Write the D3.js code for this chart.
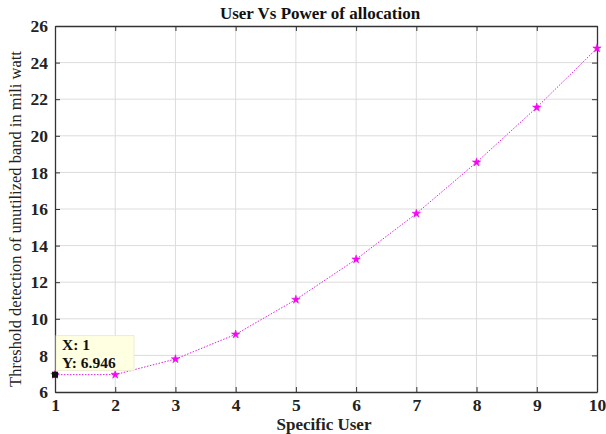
<!DOCTYPE html>
<html>
<head>
<meta charset="utf-8">
<script src="https://cdn.jsdelivr.net/npm/d3@7"></script>
<style>
  body { margin: 0; background: #fff; }
  text { font-family: "Liberation Serif", "Times New Roman", serif; }
</style>
</head>
<body>
<div id="chart"></div>
<script>
// data
const users = [1, 2, 3, 4, 5, 6, 7, 8, 9, 10];
const power = [6.946, 6.95, 7.8, 9.15, 11.05, 13.25, 15.75, 18.55, 21.55, 24.78];
const yTicks = [6, 8, 10, 12, 14, 16, 18, 20, 22, 24, 26];
const tipIndex = 0;

const W = 606, H = 434;
const margin = { top: 26, right: 9, bottom: 42, left: 55 };
const width = W - margin.left - margin.right;
const height = H - margin.top - margin.bottom;

const svg = d3.select("#chart").append("svg")
  .attr("width", W)
  .attr("height", H);

const g = svg.append("g")
  .attr("transform", "translate(" + margin.left + "," + margin.top + ")");

const x = d3.scaleLinear().domain([1, 10]).range([0, width]);
const y = d3.scaleLinear().domain([6, 26]).range([height, 0]);

// grid
g.append("g").selectAll("line")
  .data(users.slice(1, -1))
  .enter().append("line")
  .attr("x1", d => x(d)).attr("x2", d => x(d))
  .attr("y1", 0).attr("y2", height)
  .attr("stroke", "#dcdcdc").attr("stroke-width", 1);
g.append("g").selectAll("line")
  .data(yTicks.slice(1, -1))
  .enter().append("line")
  .attr("x1", 0).attr("x2", width)
  .attr("y1", d => y(d)).attr("y2", d => y(d))
  .attr("stroke", "#dcdcdc").attr("stroke-width", 1);

// axes (box style, ticks inward)
const axisStyle = sel => {
  sel.select(".domain").attr("stroke", "#333").attr("stroke-width", 1.3);
  sel.selectAll(".tick line").attr("stroke", "#333");
  sel.selectAll("text")
    .style("font-family", "'Liberation Serif', serif")
    .style("font-weight", "bold")
    .style("font-size", "17.5px")
    .attr("fill", "#222");
};

g.append("g")
  .attr("transform", "translate(0," + height + ")")
  .call(d3.axisBottom(x).tickValues(users).tickFormat(d3.format("d"))
    .tickSizeInner(-5).tickSizeOuter(0).tickPadding(7))
  .call(axisStyle);

g.append("g")
  .call(d3.axisTop(x).tickValues(users).tickFormat("")
    .tickSizeInner(-5).tickSizeOuter(0))
  .call(axisStyle);

g.append("g")
  .call(d3.axisLeft(y).tickValues(yTicks).tickFormat(d3.format("d"))
    .tickSizeInner(-5).tickSizeOuter(0).tickPadding(7))
  .call(axisStyle);

g.append("g")
  .attr("transform", "translate(" + width + ",0)")
  .call(d3.axisRight(y).tickValues(yTicks).tickFormat("")
    .tickSizeInner(-5).tickSizeOuter(0))
  .call(axisStyle);

// series
const pts = users.map((u, i) => ({ u: u, p: power[i] }));

g.append("path")
  .datum(pts)
  .attr("fill", "none")
  .attr("stroke", "#e020e0")
  .attr("stroke-width", 1)
  .attr("stroke-dasharray", "1.5,1.5")
  .attr("d", d3.line().x(d => x(d.u)).y(d => y(d.p)));

g.selectAll(".star")
  .data(pts)
  .enter().append("path")
  .attr("class", "star")
  .attr("transform", d => "translate(" + x(d.u) + "," + y(d.p) + ")")
  .attr("d", d3.symbol().type(d3.symbolStar).size(22))
  .attr("fill", "#ff00ff")
  .attr("stroke", "#e000e0")
  .attr("stroke-width", 0.5);

// data tip
const tip = pts[tipIndex];
g.append("rect")
  .attr("x", x(tip.u) - 3).attr("y", y(tip.p) - 3)
  .attr("width", 6).attr("height", 6)
  .attr("fill", "#111");

const tipG = g.append("g")
  .attr("transform", "translate(" + (x(tip.u) + 1) + "," + (y(tip.p) - 39) + ")");
tipG.append("rect")
  .attr("width", 78).attr("height", 35)
  .attr("fill", "#ffffe1")
  .attr("stroke", "#e8e8cc")
  .attr("stroke-width", 0.8);
const tipText = tipG.append("text")
  .attr("font-size", 15.5).attr("font-weight", "bold").attr("fill", "#111");
tipText.append("tspan")
  .attr("x", 6).attr("y", 14)
  .text("X: " + tip.u);
tipText.append("tspan")
  .attr("x", 6).attr("y", 32)
  .text("Y: " + d3.format(".3f")(tip.p));

// labels
svg.append("text")
  .attr("x", margin.left + width / 2 - 6)
  .attr("y", 19)
  .attr("text-anchor", "middle")
  .attr("font-size", 17).attr("font-weight", "bold").attr("fill", "#111")
  .text("User Vs Power of allocation");

svg.append("text")
  .attr("x", margin.left + width / 2 - 2)
  .attr("y", 430)
  .attr("text-anchor", "middle")
  .attr("font-size", 17).attr("font-weight", "bold").attr("fill", "#222")
  .text("Specific User");

svg.append("text")
  .attr("transform", "translate(21," + (margin.top + height / 2 + 10) + ") rotate(-90)")
  .attr("text-anchor", "middle")
  .attr("font-size", 16.5).attr("fill", "#222")
  .text("Threshold detection  of unutilized band in mili watt");
</script>
</body>
</html>
